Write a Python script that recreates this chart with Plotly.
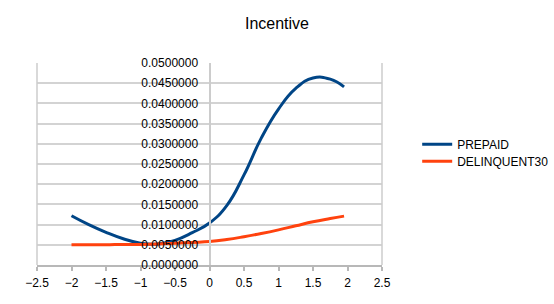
import plotly.graph_objects as go

# Data
x_vals = [-2, -1.75, -1.5, -1.25, -1, -0.75, -0.5, -0.25, 0, 0.25, 0.5, 0.75, 1, 1.25, 1.5, 1.75, 1.95]
prepaid = [0.0122, 0.0100, 0.0081, 0.0065, 0.0054, 0.0052, 0.0061, 0.0080, 0.0104, 0.0147,
           0.0223, 0.0314, 0.0386, 0.0437, 0.0463, 0.0460, 0.0441]
delinquent30 = [0.0050, 0.0050, 0.0050, 0.0051, 0.0051, 0.0052, 0.0054, 0.0056, 0.0058, 0.0063,
                0.0070, 0.0078, 0.0087, 0.0097, 0.0107, 0.0115, 0.0121]
series_names = ["PREPAID", "DELINQUENT30"]
title_text = "Incentive"

FONT = "Liberation Sans, Arial, sans-serif"

fig = go.Figure()
fig.add_trace(go.Scatter(x=x_vals, y=prepaid, mode="lines", name=series_names[0], legend="legend",
                         line=dict(color="#004586", width=3, shape="spline", smoothing=1.3)))
fig.add_trace(go.Scatter(x=x_vals, y=delinquent30, mode="lines", name=series_names[1], legend="legend2",
                         line=dict(color="#ff420e", width=3, shape="spline", smoothing=1.3)))

legend_style = dict(xanchor="left", yanchor="top", font=dict(size=12),
                    bgcolor="rgba(0,0,0,0)")

fig.update_layout(
    width=554, height=304,
    margin=dict(l=37, r=172, t=63, b=39, autoexpand=False),
    paper_bgcolor="white", plot_bgcolor="white",
    font=dict(family=FONT, size=12, color="black"),
    title=dict(text=title_text, x=0.5, xref="container", y=1 - 23 / 304, yref="container",
               xanchor="center", yanchor="middle", font=dict(size=16, color="black")),
    showlegend=True,
    legend=dict(x=1.102, y=0.67, **legend_style),
    legend2=dict(x=1.102, y=0.586, **legend_style),
    xaxis=dict(range=[-2.5, 2.5], dtick=0.5, tick0=0, showgrid=False,
               zeroline=False, showline=True, linecolor="#b8b8b8", linewidth=1.5,
               ticks="outside", ticklen=4, tickcolor="#b8b8b8", tickwidth=1.5,
               ticklabelstandoff=2,
               tickfont=dict(size=12), tickangle=0, automargin=False),
    yaxis=dict(range=[0, 0.05], dtick=0.005, tick0=0, tickformat=".7f",
               anchor="free", position=0.5, showline=True, linecolor="#cccccc", linewidth=2,
               showgrid=True, gridcolor="#d3d3d3", gridwidth=1.5, zeroline=False,
               ticks="", ticklabelstandoff=8, tickfont=dict(size=12), automargin=False),
    shapes=[
        dict(type="line", xref="x domain", yref="y domain", x0=0, x1=0, y0=0, y1=1,
             line=dict(color="#cccccc", width=1.5)),
        dict(type="line", xref="x domain", yref="y domain", x0=1, x1=1, y0=0, y1=1,
             line=dict(color="#cccccc", width=1.5)),
    ],
)

fig.write_html("out.html", config={"displayModeBar": False},
               post_script="document.body.style.margin='0';document.body.style.overflow='hidden';")
